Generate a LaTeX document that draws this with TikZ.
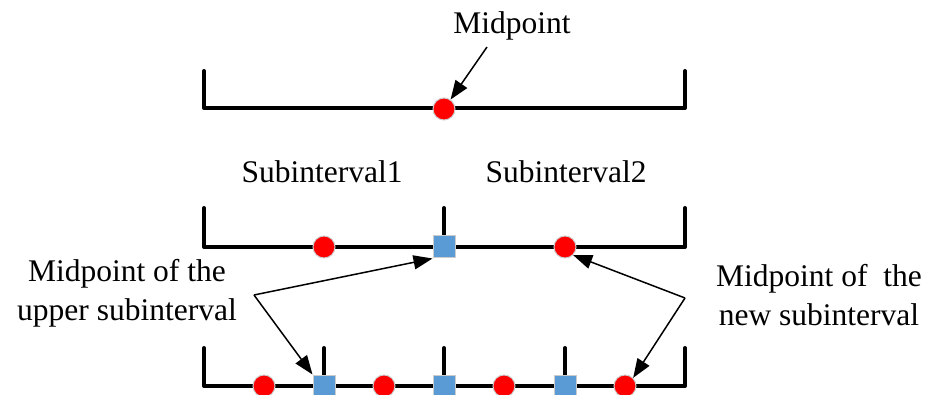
\documentclass[tikz,border=0pt]{standalone}
\usepackage{fontspec}
\setmainfont{Liberation Serif}
\usetikzlibrary{arrows.meta}
\tikzset{
  bar/.style={line width=4pt, line cap=round, line join=round},
  reddot/.style={circle, fill=red, draw=black!20, line width=1pt, minimum size=22pt, inner sep=0pt},
  bluesq/.style={rectangle, fill={rgb,255:red,91;green,155;blue,213}, draw=black!20, line width=1pt, minimum size=22pt, inner sep=0pt},
  lbl/.style={font=\fontsize{31.5}{39}\selectfont, align=center, inner sep=0pt},
  pointer/.style={line width=1.5pt, -{Triangle[length=19pt,width=14pt]}}
}
\begin{document}
\begin{tikzpicture}[x=1pt,y=-1pt]
\useasboundingbox (0,0) rectangle (929,395);
% top interval
\draw[bar] (204,71) -- (204,108) -- (685,108) -- (685,71);
\node[reddot] (m0) at (444,109) {};
\node[lbl] (tmid) at (512,26) {Midpoint};
\coordinate (tmidtail) at (487,47);
\draw[pointer] (tmidtail) -- (m0);
% subinterval labels
\node[lbl] (s1) at (322,172) {Subinterval1};
\node[lbl] (s2) at (566,172) {Subinterval2};
% second interval
\draw[bar] (204,208) -- (204,247) -- (685,247) -- (685,208);
\draw[bar] (444,208) -- (444,247);
\node[reddot] (a1) at (324,247) {};
\node[bluesq] (b1) at (444,247) {};
\node[reddot] (a2) at (565,247) {};
% third interval
\draw[bar] (204,348) -- (204,386) -- (685,386) -- (685,348);
\foreach \x in {324,444,565} \draw[bar] (\x,348) -- (\x,386);
\node[reddot] (c1) at (264,386) {};
\node[bluesq] (d1) at (324,386) {};
\node[reddot] (c2) at (384,386) {};
\node[bluesq] (d2) at (444,386) {};
\node[reddot] (c3) at (504,386) {};
\node[bluesq] (d3) at (565,386) {};
\node[reddot] (c4) at (625,386) {};
% labels
\node[lbl] (lu) at (127,293) {Midpoint of the\\upper subinterval};
\node[lbl] (ln) at (819,295) {Midpoint of\ \ the\\new subinterval};
\coordinate (lapex) at (254,295);
\coordinate (rapex) at (685,298);
\draw[pointer] (lapex) -- (b1.south west);
\draw[pointer] (lapex) -- (d1.north west);
\draw[pointer] (rapex) -- (a2.south east);
\draw[pointer] (rapex) -- (c4.north east);
\end{tikzpicture}
\end{document}
